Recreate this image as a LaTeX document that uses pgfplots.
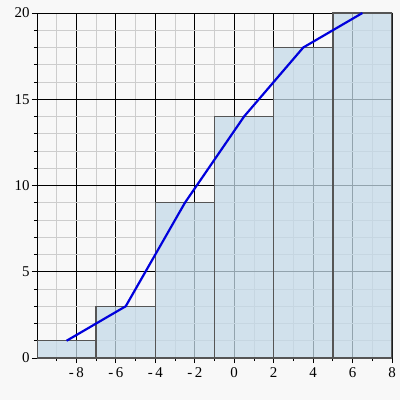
\documentclass[border=0pt]{standalone}
\usepackage{pgfplots}
\pgfplotsset{compat=1.18}
\usetikzlibrary{backgrounds}
\usepackage{fontspec}
\setmainfont{Liberation Serif}
\definecolor{bg}{RGB}{248,248,248}
\definecolor{barfill}{RGB}{196,218,232}
\definecolor{bardraw}{RGB}{85,85,85}
\definecolor{mingrid}{RGB}{205,205,205}
\definecolor{linec}{RGB}{0,0,220}
\begin{document}
\begin{tikzpicture}
\begin{axis}[
  name=ax,
  scale only axis=true,
  width=355bp, height=345bp,
  xmin=-10, xmax=8, ymin=0, ymax=20,
  xtick={-8,-6,...,8}, minor xtick={-9,-7,...,7},
  ytick={0,5,10,15,20}, minor ytick={1,2,3,4,6,7,8,9,11,12,13,14,16,17,18,19},
  xticklabels={-\,8,-\,6,-\,4,-\,2,0,2,4,6,8},
  grid=both,
  major grid style={black, line width=0.8pt},
  minor grid style={mingrid, line width=0.8pt},
  tick align=outside,
  tick pos=left,
  major tick length=5bp, minor tick length=3bp,
  tick style={black, line width=0.8pt},
  axis line style={black, line width=1pt},
  /pgf/number format/assume math mode=true,
  tick label style={font=\fontsize{15}{17}\selectfont},
  yticklabel style={xshift=1bp},
  xticklabel style={yshift=-1bp},
  axis background/.style={fill=bg},
]
\addplot[ybar interval, fill=barfill, fill opacity=0.75, draw=bardraw, line width=1.4pt, draw opacity=1]
  coordinates {(-10,1) (-7,3) (-4,9) (-1,14) (2,18) (5,20) (8,20)};
\addplot[linec, line width=2.2pt, mark=none]
  coordinates {(-8.5,1) (-5.5,3) (-2.5,9) (0.5,14) (3.5,18) (6.5,20)};
\end{axis}
\begin{scope}[on background layer]
\fill[bg] ([xshift=-37bp,yshift=-42bp]ax.south west) rectangle ([xshift=8bp,yshift=13bp]ax.north east);
\end{scope}
\end{tikzpicture}
\end{document}
